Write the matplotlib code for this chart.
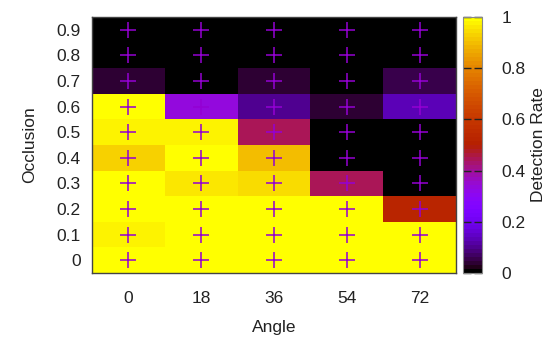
import numpy as np
import matplotlib
import matplotlib.pyplot as plt

matplotlib.use('agg')
plt.rcParams['font.family'] = ['Liberation Sans', 'DejaVu Sans']

angles = [0, 18, 36, 54, 72]
occlusions = [0, 0.1, 0.2, 0.3, 0.4, 0.5, 0.6, 0.7, 0.8, 0.9]

# detection rate, rows = occlusion (0 .. 0.9), cols = angle
rate = np.array([
    [0.99, 0.99, 0.99, 1.00, 1.00],
    [0.97, 1.00, 0.985, 1.00, 1.00],
    [0.99, 1.00, 1.00, 1.00, 0.53],
    [0.99, 0.96, 0.94, 0.45, 0.00],
    [0.935, 1.00, 0.90, 0.00, 0.00],
    [0.97, 0.97, 0.44, 0.015, 0.00],
    [1.00, 0.33, 0.10, 0.035, 0.14],
    [0.04, 0.00, 0.035, 0.015, 0.06],
    [0.00, 0.00, 0.00, 0.00, 0.00],
    [0.00, 0.00, 0.00, 0.00, 0.00],
])

fig = plt.figure(figsize=(5.5, 3.38), dpi=100)
ax = fig.add_axes([92/550, 65/338, 364/550, 256/338])
cax = fig.add_axes([463/550, 65/338, 19/550, 256/338])

cmap = plt.get_cmap('gnuplot', 64)
x = np.arange(len(angles) + 1) - 0.5
y = np.arange(len(occlusions) + 1) - 0.5
mesh = ax.pcolormesh(x, y, rate, cmap=cmap, vmin=0, vmax=1)

xx, yy = np.meshgrid(np.arange(len(angles)), np.arange(len(occlusions)))
ax.plot(xx.ravel(), yy.ravel(), '+', color='#9400d3', ms=11, mew=1.1)

ax.set_xlim(-0.5, len(angles) - 0.5)
ax.set_ylim(-0.5, len(occlusions) - 0.5)
ax.set_xticks(range(len(angles)), [str(a) for a in angles])
ax.set_yticks(range(len(occlusions)), [f"{o:g}" for o in occlusions])
ax.tick_params(length=0, labelsize=12.5, pad=8, colors='#222222')
ax.tick_params(axis='x', pad=13)
ax.set_xlabel('Angle', fontsize=12.5, labelpad=10, color='#222222')
ax.set_ylabel('Occlusion', fontsize=12.5, labelpad=14, color='#222222')
for s in ax.spines.values():
    s.set_color('#444444')
    s.set_linewidth(1)

cb = fig.colorbar(mesh, cax=cax, ticks=[0, 0.2, 0.4, 0.6, 0.8, 1])
cb.ax.set_yticklabels(['0', '0.2', '0.4', '0.6', '0.8', '1'])
cb.ax.tick_params(direction='in', length=6, width=1, labelsize=12.5, pad=14, colors='#222222', left=True, right=True)
cb.outline.set_edgecolor('#888888')
cb.set_label('Detection Rate', fontsize=12.5, labelpad=4, color='#222222')

fig.savefig('out.png', dpi=100)
